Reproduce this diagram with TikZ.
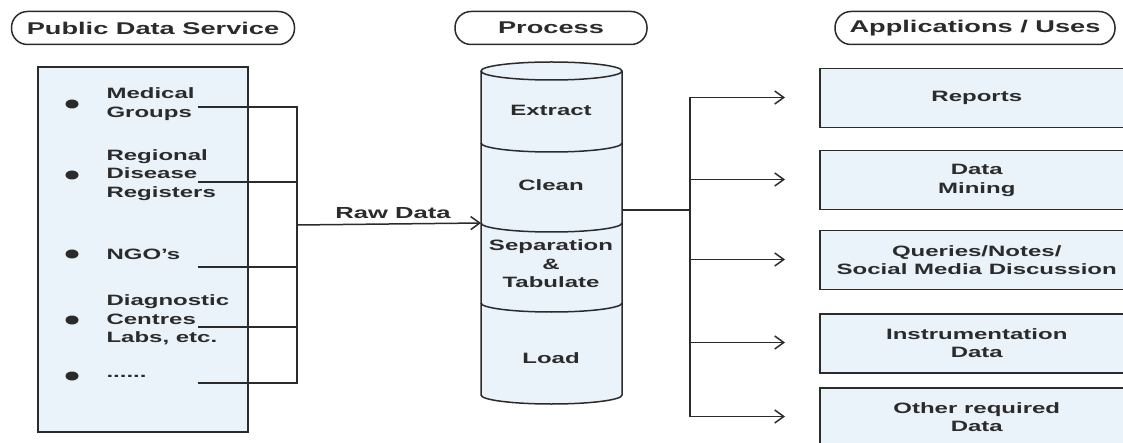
\documentclass[tikz,border=0pt]{standalone}
\usepackage{fontspec}
\setmainfont{Liberation Sans}[FakeStretch=1.6]
\usetikzlibrary{arrows.meta}
\definecolor{ink}{HTML}{2B2B2B}
\definecolor{paleblue}{HTML}{EAF2FA}
\tikzset{
  wire/.style={draw=ink,line width=1.5pt},
  feed/.style={wire,-{Straight Barb[length=9pt,width=13pt,line width=1.5pt]}},
  pill/.style={wire,rounded corners=16pt,minimum height=33pt,text=ink,
    font=\fontsize{17}{20}\selectfont\bfseries},
  srcitem/.style={anchor=west,align=left,text=ink,
    font=\fontsize{15}{18.5}\selectfont\bfseries},
  stage/.style={align=center,text=ink,font=\fontsize{15}{18.5}\selectfont\bfseries},
  usebox/.style={wire,fill=paleblue,anchor=north west,minimum width=314pt,
    minimum height=59pt,align=center,text=ink,
    font=\fontsize{15}{18.5}\selectfont\bfseries},
}
\begin{document}
\begin{tikzpicture}[x=1pt,y=-1pt]
\useasboundingbox (0,0) rectangle (1123,443);
% headings
\node[pill,minimum width=283pt] (hsrc) at (153,28) {Public Data Service};
\node[pill,minimum width=192pt] (hproc) at (551,28) {Process};
\node[pill,minimum width=280pt] (huse) at (975,28) {Applications / Uses};
% public data sources
\node[wire,fill=paleblue,minimum width=210pt,minimum height=365pt] (src) at (143,249.5) {};
\foreach \n/\y/\t in {s1/104/{Medical\\Groups},
                      s2/175/{Regional\\Disease\\Registers},
                      s3/254/{NGO's},
                      s4/320/{Diagnostic\\Centres\\Labs, etc.},
                      s5/376/{......}} {
  \fill[ink] (72,\y) ellipse (6.5pt and 4.5pt);
  \node[srcitem] (\n) at (103,\y) {\t};
}
\coordinate (bus) at (297,225);
\foreach \n/\y in {l1/107,l2/182,l3/267,l4/327,l5/383} {
  \coordinate (\n) at (198,\y);
}
\draw[wire] (l1) -- (l1 -| bus) -- (l5 -| bus) -- (l5);
\foreach \n in {l2,l3,l4} {
  \draw[wire] (\n) -- (\n -| bus);
}
% process cylinder
\draw[wire,fill=paleblue] (481,71) -- (481,395)
  arc[start angle=180,end angle=360,x radius=70.5pt,y radius=9pt] -- (622,71)
  arc[start angle=0,end angle=180,x radius=70.5pt,y radius=9pt] -- cycle;
\foreach \c in {71,143,223,303} {
  \draw[wire] (481,\c) arc[start angle=180,end angle=360,x radius=70.5pt,y radius=9pt];
}
\coordinate (cylin) at (481,223);
\coordinate (cylout) at (622,210);
\node[stage] (st1) at (551,110) {Extract};
\node[stage] (st2) at (551,185) {Clean};
\node[stage] (st3) at (551,264) {Separation\\\&\\Tabulate};
\node[stage] (st4) at (551,358) {Load};
\draw[feed] (bus) -- (cylin);
\node[text=ink,font=\fontsize{16}{19}\selectfont\bfseries,anchor=base] (raw) at (393,219) {Raw Data};
% applications
\foreach \n/\y/\t in {u1/68/{Reports},
                      u2/150/{Data\\Mining},
                      u3/230/{Queries/Notes/\\Social Media Discussion},
                      u4/313/{Instrumentation\\Data}} {
  \node[usebox] (\n) at (819,\y) {\t};
}
\node[usebox,minimum height=71pt,text depth=12pt] (u5) at (819,387) {Other required\\Data};
\coordinate (fork) at (690,210);
\foreach \n/\y in {u1/97.5,u2/179.5,u3/259.5,u4/342.5,u5/416.5} {
  \coordinate (t\n) at (785,\y);
  \draw[feed] (t\n -| fork) -- (t\n);
}
\draw[wire] (cylout) -- (fork);
\draw[wire] (tu1 -| fork) -- (tu5 -| fork);
\end{tikzpicture}
\end{document}
